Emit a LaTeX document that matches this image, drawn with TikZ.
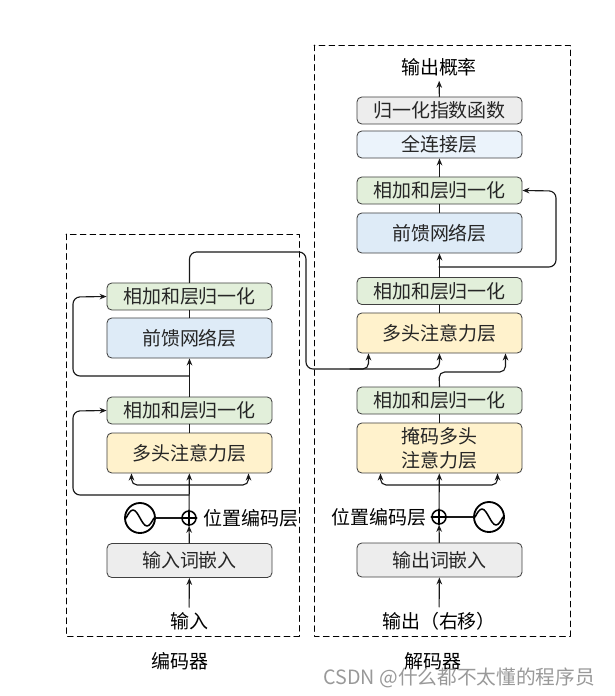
\documentclass[tikz,border=0pt]{standalone}
\usepackage{fontspec}
\newfontfamily\cjk{Noto Sans CJK SC}
\usetikzlibrary{calc,arrows.meta}
\definecolor{addgreen}{HTML}{E2EFDA}
\definecolor{ffblue}{HTML}{DEEBF7}
\definecolor{attyellow}{HTML}{FFF2CC}
\definecolor{embgray}{HTML}{EDEDED}
\definecolor{fcblue}{HTML}{EBF3FB}
\begin{document}
\begin{tikzpicture}[x=0.025cm,y=-0.025cm,font=\cjk\fontsize{13.5}{17}\selectfont,line join=round,line cap=round,>={Stealth[length=5pt,width=4pt]}]
	\tikzset{
		layer/.style={draw=black!75,line width=0.6pt,rounded corners=1.2mm,minimum width=4.125cm,minimum height=0.675cm,inner sep=0pt,text=black!85,align=center},
		addnorm/.style={layer,fill=addgreen},
		ffn/.style={layer,fill=ffblue,minimum height=1cm},
		attn/.style={layer,fill=attyellow,minimum height=1cm},
		embed/.style={layer,fill=embgray,minimum height=0.85cm},
		conn/.style={line width=0.8pt,black!90},
		plusnode/.style={circle,draw,line width=1.1pt,minimum size=0.35cm,inner sep=0pt},
		sinnode/.style={circle,draw,line width=1.3pt,minimum size=0.75cm,inner sep=0pt},
		frame/.style={dashed,line width=0.7pt,dash pattern=on 4pt off 3pt}
	}
	\useasboundingbox (0,0) rectangle (614,696);
	\draw[frame] (66,234) rectangle (299,636);
	\draw[frame] (314,45) rectangle (570,636);
	
	% encoder
	\path
	(189.5,560.5) node[embed] (encEmb) {输入词嵌入}
	(189,518) node[plusnode] (encPlus) {}
	(140,518) node[sinnode] (encSin) {}
	(203,518) node[anchor=west,inner sep=0pt] (encPos) {位置编码层}
	(189.5,453) node[attn] (encMha) {多头注意力层}
	(189.5,410.5) node[addnorm] (encAdd1) {相加和层归一化}
	(189.5,338) node[ffn] (encFf) {前馈网络层}
	(189.5,296.5) node[addnorm] (encAdd2) {相加和层归一化}
	(189,621) node (encIn) {输入}
	(180,661) node (encName) {编码器}
	;
	\coordinate (encFork) at (189,485);
	\coordinate (encRes1) at (189,495);
	\coordinate (encRes2) at (189,376);
	\draw[conn,->] (encIn) -- (encEmb);
	\draw[conn,->] (encEmb) -- (encPlus);
	\draw[conn] (encSin) -- (encPlus);
	\draw[line width=1.1pt] (encPlus.north) -- (encPlus.south) (encPlus.west) -- (encPlus.east);
	\draw[line width=1.1pt] ($(encSin.center)+(-14,0)$) sin ++(7,-8) cos ++(7,8) sin ++(7,8) cos ++(7,-8);
	\draw[conn,->] (encPlus) -- (encMha);
	\draw[conn,->,rounded corners=4pt] (encFork) -| ($(encMha.south)+(-58,0)$);
	\draw[conn,->,rounded corners=4pt] (encFork) -| ($(encMha.south)+(59,0)$);
	\draw[conn,->,rounded corners=5pt] (encRes1) -| (73,411) -- (encAdd1.west);
	\draw[conn] (encMha) -- (encAdd1);
	\draw[conn,->] (encAdd1) -- (encFf);
	\draw[conn,->,rounded corners=5pt] (encRes2) -| (73,297) -- (encAdd2.west);
	\draw[conn] (encFf) -- (encAdd2);
	
	% decoder
	\path
	(439.5,560) node[embed] (decEmb) {输出词嵌入}
	(439,517) node[plusnode] (decPlus) {}
	(489,517) node[sinnode] (decSin) {}
	(427,517) node[anchor=east,inner sep=0pt] (decPos) {位置编码层}
	(439.5,448) node[attn,minimum height=1.25cm] (decMmha) {掩码多头\\注意力层}
	(439.5,400.5) node[addnorm] (decAdd1) {相加和层归一化}
	(439.5,333) node[attn] (decMha) {多头注意力层}
	(439.5,291) node[addnorm] (decAdd2) {相加和层归一化}
	(439.5,233) node[ffn] (decFf) {前馈网络层}
	(439.5,190.5) node[addnorm] (decAdd3) {相加和层归一化}
	(439.5,144.5) node[layer,fill=fcblue] (decFc) {全连接层}
	(439.5,110.5) node[layer,fill=embgray] (decSoft) {归一化指数函数}
	(439,67) node (decProb) {输出概率}
	(439,621) node (decOut) {输出（右移）}
	(433,661) node (decName) {解码器}
	;
	\coordinate (decFork) at (439,485);
	\coordinate (decRes) at (439,267);
	\draw[conn,->] (decOut) -- (decEmb);
	\draw[conn,->] (decEmb) -- (decPlus);
	\draw[conn] (decSin) -- (decPlus);
	\draw[line width=1.1pt] (decPlus.north) -- (decPlus.south) (decPlus.west) -- (decPlus.east);
	\draw[line width=1.1pt] ($(decSin.center)+(-14,0)$) sin ++(7,-8) cos ++(7,8) sin ++(7,8) cos ++(7,-8);
	\draw[conn,->] (decPlus) -- (decMmha);
	\draw[conn,->,rounded corners=4pt] (decFork) -| ($(decMmha.south)+(-59,0)$);
	\draw[conn,->,rounded corners=4pt] (decFork) -| ($(decMmha.south)+(58,0)$);
	\draw[conn] (decMmha) -- (decAdd1);
	\draw[conn,->,rounded corners=4pt] (decAdd1.north) -- (439,372) -| ($(decMha.south)+(66,0)$);
	\draw[conn] (decMha) -- (decAdd2);
	\draw[conn,->] (decAdd2) -- (decFf);
	\draw[conn,->,rounded corners=5pt] (decRes) -| (556,191) -- (decAdd3.east);
	\draw[conn] (decFf) -- (decAdd3);
	\draw[conn,->] (decAdd3) -- (decFc);
	\draw[conn,->] (decSoft) -- (decProb);
	
	% encoder to decoder
	\draw[conn,->,rounded corners=5pt] (encAdd2.north) |- (306,252) -- (306,369) -| (decMha.south);
	\draw[conn,->,rounded corners=4pt] (350,369) -| ($(decMha.south)+(-71,0)$);
	
	\node[anchor=east,text=black!40,font=\cjk\fontsize{14}{16}\selectfont] (mark) at (600,678) {CSDN @什么都不太懂的程序员};
\end{tikzpicture}
\end{document}
